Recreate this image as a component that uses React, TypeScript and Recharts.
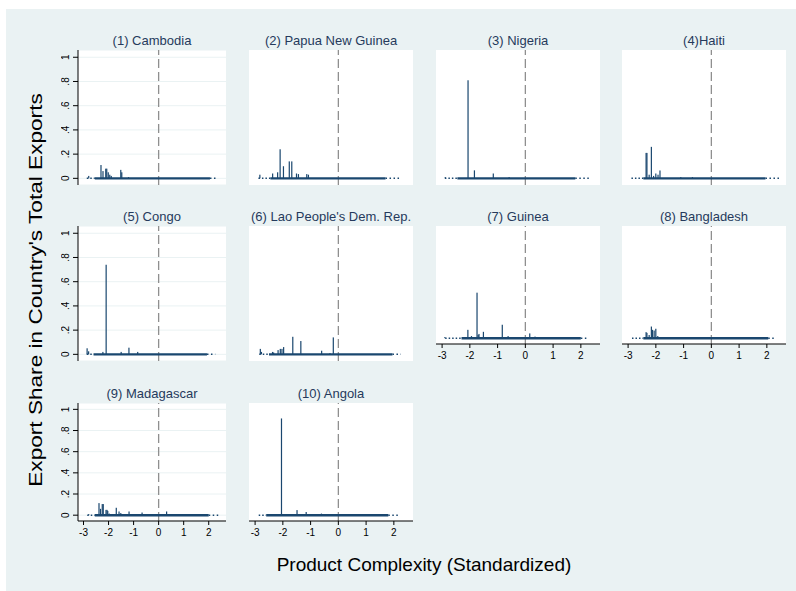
import { ComposedChart, Bar, XAxis, YAxis, CartesianGrid, ReferenceLine } from 'recharts';

type Spike = [number, number]; // [product complexity, export share]

const panelTitles = [
  '(1) Cambodia',
  '(2) Papua New Guinea',
  '(3) Nigeria',
  '(4)Haiti',
  '(5) Congo',
  "(6) Lao People's Dem. Rep.",
  '(7) Guinea',
  '(8) Bangladesh',
  '(9) Madagascar',
  '(10) Angola',
];

const cambodia: Spike[] = [
  [-2.79, 0.02], [-2.3, 0.11], [-2.22, 0.06], [-2.11, 0.08], [-2.07, 0.08], [-2.01, 0.05],
  [-1.95, 0.03], [-1.89, 0.02], [-1.51, 0.07], [-1.47, 0.05], [-1.2, 0.01],
];
const papuaNewGuinea: Spike[] = [
  [-2.82, 0.03], [-2.36, 0.04], [-2.18, 0.05], [-2.09, 0.24], [-1.97, 0.1], [-1.76, 0.14],
  [-1.67, 0.14], [-1.5, 0.04], [-1.43, 0.035], [-1.13, 0.035], [-1.07, 0.03],
];
const nigeria: Spike[] = [[-2.9, 0.01], [-2.08, 0.81], [-1.85, 0.066], [-1.17, 0.04], [-0.6, 0.01]];
const haiti: Spike[] = [
  [-2.35, 0.21], [-2.32, 0.21], [-2.24, 0.03], [-2.16, 0.26], [-2.08, 0.02], [-2.0, 0.04],
  [-1.92, 0.03], [-1.85, 0.065], [-1.1, 0.01], [-0.68, 0.01],
];
const congo: Spike[] = [
  [-2.85, 0.05], [-2.79, 0.025], [-2.22, 0.02], [-2.09, 0.74], [-1.49, 0.02], [-1.18, 0.055], [-0.83, 0.02],
];
const lao: Spike[] = [
  [-2.81, 0.045], [-2.77, 0.02], [-2.37, 0.02], [-2.33, 0.015], [-2.17, 0.035], [-2.09, 0.045],
  [-2.03, 0.045], [-1.97, 0.06], [-1.64, 0.145], [-1.35, 0.11], [-0.6, 0.03], [-0.3, 0.01], [-0.18, 0.14],
];
const guinea: Spike[] = [
  [-2.9, 0.01], [-2.07, 0.079], [-1.94, 0.02], [-1.74, 0.43], [-1.7, 0.03], [-1.67, 0.04],
  [-1.51, 0.06], [-0.83, 0.127], [-0.62, 0.02], [0.16, 0.045], [0.35, 0.015],
];
const bangladesh: Spike[] = [
  [-2.35, 0.057], [-2.32, 0.05], [-2.24, 0.03], [-2.16, 0.11], [-2.12, 0.079], [-2.06, 0.072],
  [-2.0, 0.089], [-1.93, 0.02], [-1.3, 0.01],
];
const madagascar: Spike[] = [
  [-2.79, 0.01], [-2.38, 0.114], [-2.32, 0.06], [-2.25, 0.105], [-2.21, 0.105], [-2.1, 0.05],
  [-2.06, 0.05], [-2.03, 0.04], [-1.97, 0.015], [-1.69, 0.07], [-1.58, 0.035], [-1.51, 0.02],
  [-1.18, 0.035], [-0.66, 0.025], [0.32, 0.035],
];
const angola: Spike[] = [[-2.05, 0.914], [-1.49, 0.048], [-1.16, 0.03], [-0.61, 0.015]];

const spikeSets = [cambodia, papuaNewGuinea, nigeria, haiti, congo, lao, guinea, bangladesh, madagascar, angola];

// near-zero shares of all other products: [first, solid from, solid to, last]
const baselineRanges = [
  [-2.87, -2.55, 2.05, 2.28],
  [-2.88, -2.45, 1.7, 2.21],
  [-2.9, -2.45, 1.8, 2.3],
  [-2.88, -2.45, 1.95, 2.48],
  [-2.87, -2.6, 1.93, 2.26],
  [-2.85, -2.5, 1.95, 2.25],
  [-2.89, -2.3, 2.0, 2.28],
  [-2.86, -2.45, 2.05, 2.3],
  [-2.85, -2.55, 2.0, 2.45],
  [-2.87, -2.6, 1.8, 2.22],
];

const xTicks = [-3, -2, -1, 0, 1, 2];
const yTicks = [0, 0.2, 0.4, 0.6, 0.8, 1];

const NAVY = '#1A476F';
const BG = '#EAF2F3';
const FONT = 'Arial, "Liberation Sans", sans-serif';

const PLOT_LEFT = [72, 243, 430, 616];
const PLOT_W = [148, 164, 164, 164];
const ROW_TOP = [41, 217, 394];

const fmtY = (v: number) => (v === 0 ? '0' : v === 1 ? '1' : String(v).replace('0.', '.'));

const YTick = ({ x, y, payload }: any) => (
  <text x={x} y={y} transform={`rotate(-90 ${x} ${y})`} textAnchor="middle" fontSize={10} fill="#000" fontFamily={FONT}>
    {fmtY(payload.value)}
  </text>
);

const SpikeShape = (props: any) => {
  const { x, y, width, height } = props;
  if (!height || height <= 0) return null;
  const cx = x + width / 2;
  return <rect x={cx - 0.6} y={y} width={1.2} height={height} fill={NAVY} />;
};

function Panel({ idx }: { idx: number }) {
  const col = idx % 4;
  const row = Math.floor(idx / 4);
  const showY = col === 0;
  const showX = idx >= 6;
  const yW = showY ? 16 : 0;
  const plotH = showX ? 118 : 135;
  const xH = showX ? 17 : 0;
  const rows = spikeSets[idx].map(([pci, share]) => ({ pci, share }));
  const [first, from, to, last] = baselineRanges[idx];
  const chartLeft = PLOT_LEFT[col] - yW - 1;
  const width = yW + 1 + PLOT_W[col] + 2;
  const height = plotH + xH + (showX ? 0 : 1);

  return (
    <>
      <div
        style={{
          position: 'absolute',
          left: PLOT_LEFT[col] - 20,
          width: PLOT_W[col] + 40,
          top: ROW_TOP[row] - 16,
          textAlign: 'center',
          fontSize: 13,
          lineHeight: '13px',
          color: '#263a5c',
          whiteSpace: 'nowrap',
        }}
      >
        {panelTitles[idx]}
      </div>
      <div style={{ position: 'absolute', left: chartLeft, top: ROW_TOP[row] }}>
        <ComposedChart
          width={width}
          height={height}
          data={rows}
          margin={{ top: 0, right: 2, left: 1, bottom: showX ? 0 : 1 }}
        >
          <CartesianGrid
            horizontal={showY}
            vertical={false}
            fill="#fff"
            fillOpacity={1}
            stroke={BG}
            strokeWidth={1}
          />
          <XAxis
            type="number"
            dataKey="pci"
            domain={[-3.22, 2.69]}
            allowDataOverflow
            ticks={xTicks}
            interval={0}
            tick={showX ? { fontSize: 10, fill: '#000', fontFamily: FONT } : false}
            tickLine={showX ? { stroke: '#000' } : false}
            tickSize={4}
            tickMargin={4}
            height={xH}
            axisLine={{ stroke: '#000', strokeWidth: 1 }}
          />
          <YAxis
            type="number"
            domain={[-0.055, 1.06]}
            allowDataOverflow
            ticks={yTicks}
            interval={0}
            width={yW}
            tick={showY ? <YTick /> : false}
            tickLine={showY ? { stroke: '#000' } : false}
            tickSize={5}
            tickMargin={4}
            axisLine={{ stroke: '#000', strokeWidth: 1 }}
          />
          <ReferenceLine x={0} stroke="#8f8f8f" strokeWidth={1.3} strokeDasharray="9 4" />
          <ReferenceLine
            segment={[{ x: first, y: 0 }, { x: from, y: 0 }]}
            stroke={NAVY}
            strokeWidth={1.5}
            strokeDasharray="1.5 2"
          />
          <ReferenceLine
            segment={[{ x: to, y: 0 }, { x: last, y: 0 }]}
            stroke={NAVY}
            strokeWidth={1.5}
            strokeDasharray="1.5 2.5"
          />
          <ReferenceLine segment={[{ x: from, y: 0 }, { x: to, y: 0 }]} stroke={NAVY} strokeWidth={2.4} />
          <Bar dataKey="share" barSize={1.2} fill={NAVY} shape={<SpikeShape />} isAnimationActive={false} />
        </ComposedChart>
      </div>
    </>
  );
}

export default function App() {
  return (
    <div
      style={{
        position: 'absolute',
        left: 6,
        top: 9,
        width: 790,
        height: 582,
        background: BG,
        fontFamily: FONT,
        overflow: 'hidden',
      }}
    >
      {panelTitles.map((t, i) => (
        <Panel key={t} idx={i} />
      ))}
      <div
        style={{
          position: 'absolute',
          left: -220,
          top: 271,
          width: 500,
          height: 20,
          lineHeight: '20px',
          fontSize: 19,
          textAlign: 'center',
          transform: 'rotate(-90deg) scaleX(1.19)',
          color: '#000',
          whiteSpace: 'nowrap',
        }}
      >
        Export Share in Country's Total Exports
      </div>
      <div
        style={{
          position: 'absolute',
          left: 118,
          top: 546,
          width: 600,
          lineHeight: '20px',
          fontSize: 19,
          textAlign: 'center',
          color: '#000',
          whiteSpace: 'nowrap',
        }}
      >
        Product Complexity (Standardized)
      </div>
    </div>
  );
}
